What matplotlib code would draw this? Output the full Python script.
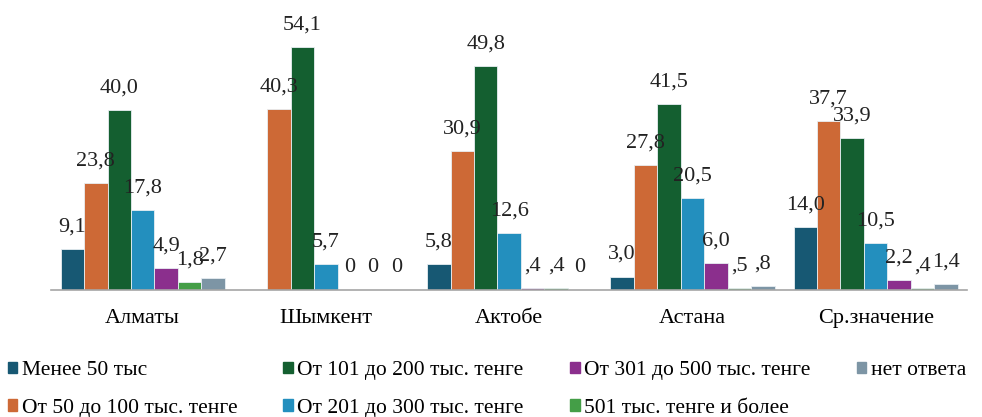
import numpy as np
import matplotlib
matplotlib.use("Agg")
import matplotlib.pyplot as plt
from matplotlib.patches import Patch

plt.rcParams["font.family"] = ["Liberation Serif", "DejaVu Serif"]

# данные
cities = ["Алматы", "Шымкент", "Актобе", "Астана", "Ср.значение"]
series_names = [
    "Менее 50 тыс",
    "От 50 до 100 тыс. тенге",
    "От 101 до 200 тыс. тенге",
    "От 201 до 300 тыс. тенге",
    "От 301 до 500 тыс. тенге",
    "501 тыс. тенге и более",
    "нет ответа",
]
less50 = [9.1, np.nan, 5.8, 3.0, 14.0]
t50_100 = [23.8, 40.3, 30.9, 27.8, 37.7]
t101_200 = [40.0, 54.1, 49.8, 41.5, 33.9]
t201_300 = [17.8, 5.7, 12.6, 20.5, 10.5]
t301_500 = [4.9, 0.0, 0.4, 6.0, 2.2]
t501 = [1.8, 0.0, 0.4, 0.5, 0.4]
no_answer = [2.7, 0.0, 0.0, 0.8, 1.4]
series = [less50, t50_100, t101_200, t201_300, t301_500, t501, no_answer]

COLORS = ["#175873", "#cd6936", "#145f30", "#238fbe", "#8b2f8d", "#449e47", "#7d95a5"]


def fmt(v):
    # формат подписей как в Excel: 0,4 -> ",4"
    if v == 0:
        return "0"
    s = f"{v:.1f}".replace(".", ",")
    if s.startswith("0,"):
        s = s[1:]
    return s


fig = plt.figure(figsize=(9.82, 4.17), dpi=100)
ax = fig.add_axes([0.052, 0.3046, 0.933, 0.646])

x = np.arange(len(cities))
w = 0.128
for i, (vals, name, c) in enumerate(zip(series, series_names, COLORS)):
    pos = x + (i - 3) * w
    vals = np.array(vals, dtype=float)
    ax.bar(pos, np.nan_to_num(vals), w, color=c, edgecolor="#e8eef2", linewidth=0.6, label=name)
    for p, v in zip(pos, vals):
        if np.isnan(v):
            continue
        ax.annotate(fmt(v), xy=(p, v), xytext=(0, 9), textcoords="offset points",
                    ha="center", va="bottom", fontsize=16, color="#222222")

ax.set_xlim(-0.5, len(cities) - 0.5)
ax.set_ylim(0, 60)
ax.set_xticks(x)
ax.set_xticklabels(cities, fontsize=16)
ax.tick_params(axis="x", length=0, pad=14)
ax.set_yticks([])
for s in ["top", "right", "left"]:
    ax.spines[s].set_visible(False)
ax.spines["bottom"].set_color("#a6a6a6")
ax.spines["bottom"].set_linewidth(1.2)

handles = [Patch(color=c) for c in COLORS]
fig.legend(handles, series_names, loc="lower left", bbox_to_anchor=(-0.012, -0.048),
           ncol=4, frameon=False, fontsize=15.5, handlelength=0.45, handleheight=0.45,
           handletextpad=0.2, columnspacing=2.15, labelspacing=0.85)

fig.savefig("out.png", dpi=100)
